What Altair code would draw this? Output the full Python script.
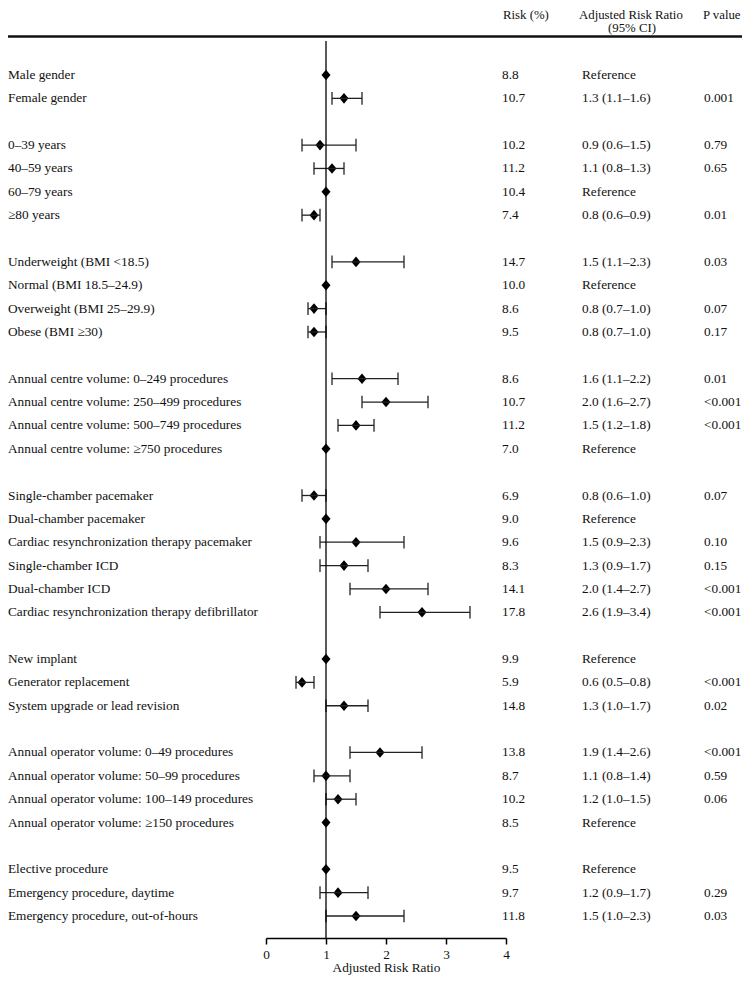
import altair as alt
import pandas as pd
import numpy as np

FONT = "Liberation Serif"
FS = 13.3

labels = [
    "Male gender", "Female gender",
    "0\u201339 years", "40\u201359 years", "60\u201379 years", "\u226580 years",
    "Underweight (BMI <18.5)", "Normal (BMI 18.5\u201324.9)", "Overweight  (BMI 25\u201329.9)", "Obese (BMI \u226530)",
    "Annual centre volume: 0\u2013249 procedures", "Annual centre volume: 250\u2013499 procedures",
    "Annual centre volume: 500\u2013749 procedures", "Annual centre volume: \u2265750 procedures",
    "Single-chamber pacemaker", "Dual-chamber pacemaker", "Cardiac resynchronization therapy pacemaker",
    "Single-chamber ICD", "Dual-chamber ICD", "Cardiac resynchronization therapy defibrillator",
    "New implant", "Generator replacement", "System upgrade or lead revision",
    "Annual operator volume: 0\u201349 procedures", "Annual operator volume: 50\u201399 procedures",
    "Annual operator volume: 100\u2013149 procedures", "Annual operator volume: \u2265150 procedures",
    "Elective procedure", "Emergency procedure, daytime", "Emergency procedure, out-of-hours",
]
group_sizes = [2, 4, 4, 4, 6, 3, 4, 3]

risk = ["8.8", "10.7",
        "10.2", "11.2", "10.4", "7.4",
        "14.7", "10.0", "8.6", "9.5",
        "8.6", "10.7", "11.2", "7.0",
        "6.9", "9.0", "9.6", "8.3", "14.1", "17.8",
        "9.9", "5.9", "14.8",
        "13.8", "8.7", "10.2", "8.5",
        "9.5", "9.7", "11.8"]

rr_point = [1.0, 1.3,
            0.9, 1.1, 1.0, 0.8,
            1.5, 1.0, 0.8, 0.8,
            1.6, 2.0, 1.5, 1.0,
            0.8, 1.0, 1.5, 1.3, 2.0, 2.6,
            1.0, 0.6, 1.3,
            1.9, 1.0, 1.2, 1.0,
            1.0, 1.2, 1.5]

ci_low = [None, 1.1,
          0.6, 0.8, None, 0.6,
          1.1, None, 0.7, 0.7,
          1.1, 1.6, 1.2, None,
          0.6, None, 0.9, 0.9, 1.4, 1.9,
          None, 0.5, 1.0,
          1.4, 0.8, 1.0, None,
          None, 0.9, 1.0]

ci_high = [None, 1.6,
           1.5, 1.3, None, 0.9,
           2.3, None, 1.0, 1.0,
           2.2, 2.7, 1.8, None,
           1.0, None, 2.3, 1.7, 2.7, 3.4,
           None, 0.8, 1.7,
           2.6, 1.4, 1.5, None,
           None, 1.7, 2.3]

arr_text = ["Reference", "1.3 (1.1\u20131.6)",
            "0.9 (0.6\u20131.5)", "1.1 (0.8\u20131.3)", "Reference", "0.8 (0.6\u20130.9)",
            "1.5 (1.1\u20132.3)", "Reference", "0.8 (0.7\u20131.0)", "0.8 (0.7\u20131.0)",
            "1.6 (1.1\u20132.2)", "2.0 (1.6\u20132.7)", "1.5 (1.2\u20131.8)", "Reference",
            "0.8 (0.6\u20131.0)", "Reference", "1.5 (0.9\u20132.3)", "1.3 (0.9\u20131.7)",
            "2.0 (1.4\u20132.7)", "2.6 (1.9\u20133.4)",
            "Reference", "0.6 (0.5\u20130.8)", "1.3 (1.0\u20131.7)",
            "1.9 (1.4\u20132.6)", "1.1 (0.8\u20131.4)", "1.2 (1.0\u20131.5)", "Reference",
            "Reference", "1.2 (0.9\u20131.7)", "1.5 (1.0\u20132.3)"]

p_text = ["", "0.001",
          "0.79", "0.65", "", "0.01",
          "0.03", "", "0.07", "0.17",
          "0.01", "<0.001", "<0.001", "",
          "0.07", "", "0.10", "0.15", "<0.001", "<0.001",
          "", "<0.001", "0.02",
          "<0.001", "0.59", "0.06", "",
          "", "0.29", "0.03"]

headers = ["Risk (%)", "Adjusted Risk Ratio", "(95% CI)", "P value"]
axis_ticks = [0, 1, 2, 3, 4]

# row positions (blank row between groups)
rows = []
r = 0
for g in group_sizes:
    for _ in range(g):
        rows.append(r)
        r += 1
    r += 1

df = pd.DataFrame({
    "row": rows,
    "label": labels,
    "risk": risk,
    "rr": rr_point,
    "lo": [np.nan if v is None else v for v in ci_low],
    "hi": [np.nan if v is None else v for v in ci_high],
    "arr": arr_text,
    "p": p_text,
})
ci = df.dropna(subset=["lo", "hi"])

xscale = alt.Scale(domain=[0, 4], range=[258, 498], zero=False, nice=False)
yscale = alt.Scale(domain=[0, 36], range=[67, 908], zero=False, nice=False)
xaxis = alt.Axis(values=axis_ticks, title="Adjusted Risk Ratio", grid=False,
                 format="d", labelFlush=False)

base = alt.Chart(df)

points = base.mark_point(
    shape="M0,-1L0.85,0L0,1L-0.85,0Z", filled=True, size=112, color="black", opacity=1
).encode(
    x=alt.X("rr:Q", scale=xscale, axis=xaxis),
    y=alt.Y("row:Q", scale=yscale, axis=None),
)

bars = alt.Chart(ci).mark_rule(color="#222", strokeWidth=1.3).encode(
    x=alt.X("lo:Q", scale=xscale, axis=xaxis),
    x2="hi:Q",
    y=alt.Y("row:Q", scale=yscale, axis=None),
)

def cap(field):
    return alt.Chart(ci).transform_calculate(
        y1="datum.row - 0.27", y2="datum.row + 0.27"
    ).mark_rule(color="#222", strokeWidth=1.3).encode(
        x=alt.X(f"{field}:Q", scale=xscale, axis=xaxis),
        y=alt.Y("y1:Q", scale=yscale, axis=None),
        y2="y2:Q",
    )

ref_line = alt.Chart(pd.DataFrame({"v": [1]})).mark_rule(color="black", strokeWidth=1.3).encode(
    x=alt.X("v:Q", scale=xscale, axis=xaxis),
    y=alt.value(33),
    y2=alt.value(930),
)

header_rule = alt.Chart(pd.DataFrame({"v": [0]})).mark_rule(color="#111", strokeWidth=2.5).encode(
    x=alt.value(0), x2=alt.value(734), y=alt.value(28.5)
)

def col_text(field, xpix):
    return base.mark_text(align="left", baseline="middle", font=FONT, fontSize=FS, color="#111").encode(
        x=alt.value(xpix),
        y=alt.Y("row:Q", scale=yscale, axis=None),
        text=f"{field}:N",
    )

hdr_pos = [(495, 1), (571, 1), (600, 14), (695, 1)]
hdr_layers = []
for t, (xp, yp) in zip(headers, hdr_pos):
    hdr_layers.append(
        alt.Chart(pd.DataFrame({"t": [t]})).mark_text(
            align="left", baseline="top", font=FONT, fontSize=12.8, color="#111"
        ).encode(x=alt.value(xp), y=alt.value(yp), text="t:N")
    )

chart = alt.layer(
    points, bars, cap("lo"), cap("hi"), ref_line, header_rule,
    col_text("label", 0), col_text("risk", 494), col_text("arr", 574), col_text("p", 696),
    *hdr_layers
).properties(
    width=734, height=930,
    autosize=alt.AutoSizeParams(type="none"),
    padding={"left": 0, "top": 0, "right": 0, "bottom": 38},
).configure_view(stroke=None).configure_axis(
    domainColor="black", domainWidth=1.5, tickColor="black", tickWidth=1.5, tickSize=6,
    labelFont=FONT, labelFontSize=FS, labelColor="#111", labelPadding=3,
    titleFont=FONT, titleFontSize=FS, titleFontWeight="normal", titleColor="#111", titlePadding=0,
)

chart.save("out.html", embed_options={"renderer": "svg", "actions": False})
